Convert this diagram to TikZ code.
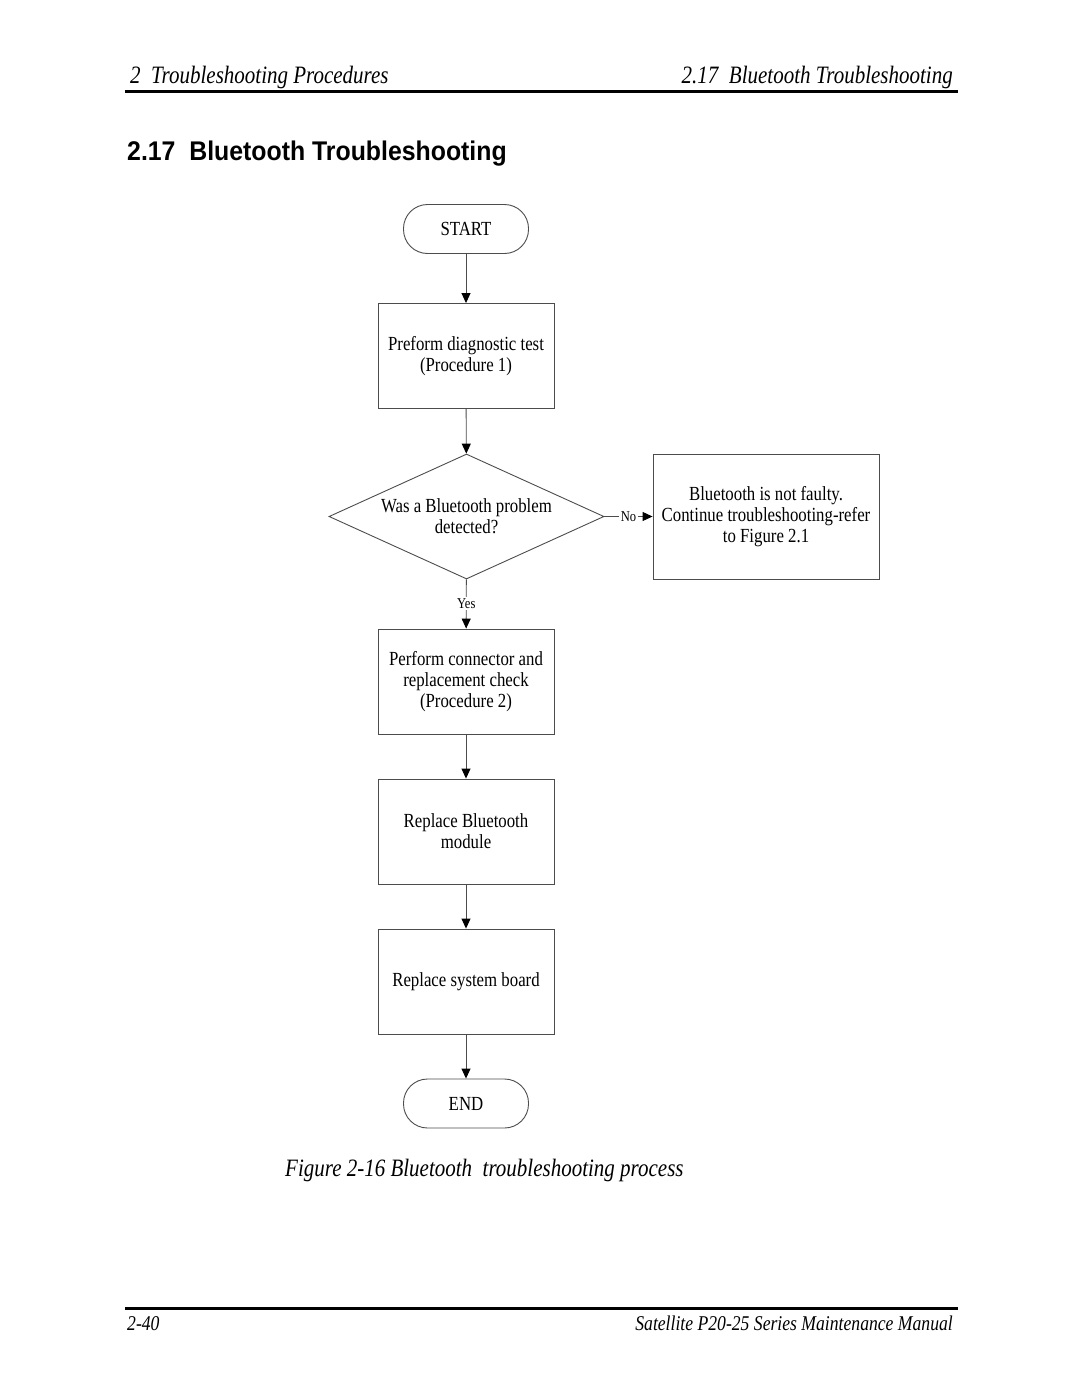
\documentclass[tikz,border=0pt]{standalone}
\usepackage{fontspec}
\setmainfont[FakeStretch=0.84]{Liberation Serif}
\newfontfamily\headsans[FakeStretch=0.92]{Liberation Sans}
\usetikzlibrary{shapes.geometric,arrows.meta}
\tikzset{
  flowline/.style={draw=black!70, line width=0.9pt},
  arrowline/.style={flowline, -{Triangle[width=9pt,length=10pt,fill=black,color=black]}},
  boxfont/.style={font=\fontsize{20}{21}\selectfont},
  procbox/.style={draw=black!70, line width=0.9pt, minimum width=176pt, minimum height=105pt, inner sep=0pt, align=center, boxfont},
  termbox/.style={draw=black!70, line width=0.9pt, rounded corners=24pt, minimum width=125pt, minimum height=49pt, inner sep=0pt, boxfont},
  decbox/.style={diamond, aspect=2.2, draw=black!70, line width=0.9pt, minimum width=275pt, minimum height=125pt, inner sep=0pt, align=center, boxfont},
  smalllabel/.style={fill=white, inner sep=1.5pt, font=\fontsize{15}{16}\selectfont},
  headtext/.style={font=\fontsize{25}{28}\selectfont\itshape, inner sep=0pt},
  foottext/.style={font=\fontsize{21}{24}\selectfont\itshape, inner sep=0pt},
  rule/.style={line width=3pt, draw=black}
}
\begin{document}
\begin{tikzpicture}[x=1pt, y=-1pt]
\useasboundingbox (0,0) rectangle (1080,1397);
% header
\node[headtext, anchor=base west] (hl) at (130,83) {2\ \ Troubleshooting Procedures};
\node[headtext, anchor=base east] (hr) at (953,83) {2.17\ \ Bluetooth Troubleshooting};
\coordinate (hrl) at (125,91);
\coordinate (hrr) at (958,91);
\draw[rule] (hrl) -- (hrr);
% title
\node[anchor=base west, inner sep=0pt, font=\headsans\bfseries\fontsize{27}{30}\selectfont] (title) at (127,160) {2.17\ \ Bluetooth Troubleshooting};
% flow
\node[termbox] (start) at (466,229) {START};
\node[procbox] (p1) at (466,356) {Preform diagnostic test\\(Procedure 1)};
\node[decbox] (d1) at (466.5,516.5) {Was a Bluetooth problem\\detected?};
\node[procbox, minimum width=226pt, minimum height=125pt] (nf) at (766,516.5) {Bluetooth is not faulty.\\Continue troubleshooting-refer\\to Figure 2.1};
\node[procbox] (p2) at (466,681.5) {Perform connector and\\replacement check\\(Procedure 2)};
\node[procbox] (p3) at (466,831.5) {Replace Bluetooth\\module};
\node[procbox] (p4) at (466,981.5) {Replace system board};
\node[termbox] (end) at (466,1103.5) {END};
\draw[arrowline] (start) -- (p1);
\draw[arrowline] (p1) -- (d1);
\draw[arrowline] (d1) -- node[smalllabel, pos=0.5] (no) {No} (nf);
\draw[arrowline] (d1) -- node[smalllabel, pos=0.5] (yes) {Yes} (p2);
\draw[arrowline] (p2) -- (p3);
\draw[arrowline] (p3) -- (p4);
\draw[arrowline] (p4) -- (end);
% caption
\node[headtext, anchor=base west] (cap) at (285,1176) {Figure 2-16 Bluetooth\ \ troubleshooting process};
% footer
\coordinate (frl) at (125,1308);
\coordinate (frr) at (958,1308);
\draw[rule] (frl) -- (frr);
\node[foottext, anchor=base west] (fl) at (127,1330) {2-40};
\node[foottext, anchor=base east] (fr) at (953,1330) {Satellite P20-25 Series Maintenance Manual};
\end{tikzpicture}
\end{document}
